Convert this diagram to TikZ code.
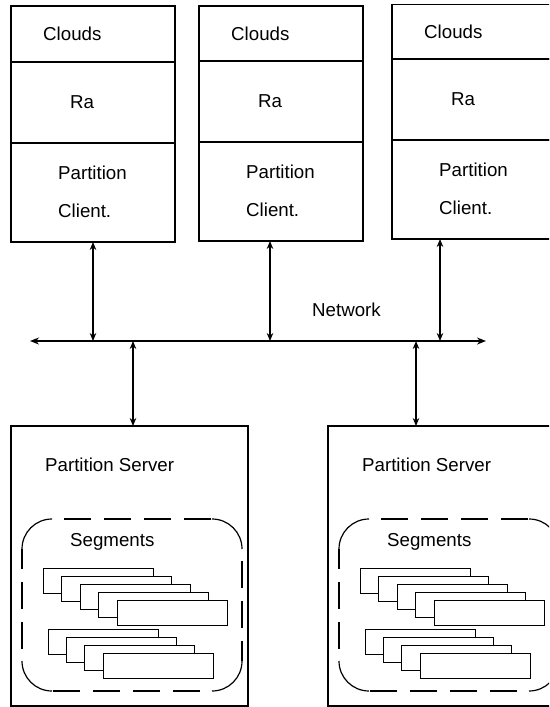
\documentclass[tikz,border=0pt]{standalone}
\usepackage{fontspec}
\setmainfont{Liberation Sans}
\usetikzlibrary{arrows.meta,calc}
\begin{document}
\begin{tikzpicture}[x=1pt,y=-1pt,
  box/.style={draw, line width=1.1pt, minimum width=164pt, inner sep=0pt, outer sep=0pt, fill=white},
  lbl/.style={inner sep=0pt, anchor=west, font=\fontsize{18.7}{22}\selectfont},
  link/.style={line width=1.6pt, {Stealth[length=8pt,width=6.5pt]}-{Stealth[length=8pt,width=6.5pt]}},
  bus/.style={line width=1.8pt, {Stealth[length=9pt,width=7pt]}-{Stealth[length=9pt,width=7pt]}},
  group/.style={minimum width=220pt, minimum height=172pt, inner sep=0pt, outer sep=0pt},
  grpcorner/.style={draw, line width=1.2pt},
  grpside/.style={draw, line width=1.2pt, dash pattern=on 27pt off 13pt},
  seg/.style={draw, fill=white, line width=1pt, minimum width=110pt, minimum height=25pt,
    inner sep=0pt, outer sep=0pt}]
\useasboundingbox (0,0) rectangle (549,707);
\clip (0,0) rectangle (549,707);

% network bus
\coordinate (bus-l) at (30,341);
\coordinate (bus-r) at (486,341);
\draw[bus] (bus-l) -- (bus-r);
\node[lbl] (net) at (312,310) {Network};

% client stacks: Clouds / Ra / Partition Client
\foreach \i/\L/\T/\ha/\ax in {1/11/6/56/82, 2/199/6/55/71, 3/392/4.5/54.5/48} {
  \node[box, minimum height=\ha, anchor=north west] (c\i-a) at (\L,\T) {};
  \node[box, minimum height=81, anchor=north] (c\i-b) at (c\i-a.south) {};
  \node[box, minimum height=99, anchor=north] (c\i-c) at (c\i-b.south) {};
  \node[lbl] (c\i-clouds) at ($(c\i-a.west)+(32,0)$) {Clouds};
  \node[lbl, anchor=center] (c\i-ra) at ($(c\i-b.center)+(-11,0)$) {Ra};
  \node[lbl] (c\i-part) at ($(c\i-c.west)+(47,-20)$) {Partition};
  \node[lbl] (c\i-client) at ($(c\i-c.west)+(47,18)$) {Client.};
  \coordinate (c\i-p) at ($(c\i-c.south west)+(\ax,0)$);
  \draw[link] (c\i-p) -- (c\i-p |- bus-l);
}

% partition servers with their segments
\foreach \j/\L/\ax in {1/11/122, 2/328/88} {
  \node[box, minimum width=237, minimum height=280, anchor=north west] (s\j) at (\L,426) {};
  \node[lbl] (s\j-title) at ($(s\j.north west)+(34,39)$) {Partition Server};
  \coordinate (s\j-p) at ($(s\j.north west)+(\ax,0)$);
  \draw[link] (s\j-p |- bus-l) -- (s\j-p);
  % dashed segment group: solid rounded corners, dashed sides
  \node[group, anchor=north west] (g\j) at ($(s\j.north west)+(11,93)$) {};
  \draw[grpcorner] ($(g\j.north west)+(0,30)$) .. controls ($(g\j.north west)+(0,13.4)$) and ($(g\j.north west)+(13.4,0)$) .. ($(g\j.north west)+(30,0)$);
  \draw[grpcorner] ($(g\j.north east)+(-30,0)$) .. controls ($(g\j.north east)+(-13.4,0)$) and ($(g\j.north east)+(0,13.4)$) .. ($(g\j.north east)+(0,30)$);
  \draw[grpcorner] ($(g\j.south east)+(0,-30)$) .. controls ($(g\j.south east)+(0,-13.4)$) and ($(g\j.south east)+(-13.4,0)$) .. ($(g\j.south east)+(-30,0)$);
  \draw[grpcorner] ($(g\j.south west)+(30,0)$) .. controls ($(g\j.south west)+(13.4,0)$) and ($(g\j.south west)+(0,-13.4)$) .. ($(g\j.south west)+(0,-30)$);
  \draw[grpside] ($(g\j.north west)+(42,0)$) -- ($(g\j.north east)+(-30,0)$);
  \draw[grpside] ($(g\j.north east)+(0,42)$) -- ($(g\j.south east)+(0,-30)$);
  \draw[grpside] ($(g\j.south east)+(-42,0)$) -- ($(g\j.south west)+(30,0)$);
  \draw[grpside] ($(g\j.south west)+(0,-42)$) -- ($(g\j.north west)+(0,30)$);
  \node[lbl] (g\j-label) at ($(g\j.north west)+(48,23)$) {Segments};
  \foreach \k in {0,...,4}
    \node[seg, anchor=north west] (g\j-t\k) at ($(s\j.north west)+({32+18.5*\k},{142+8*\k})$) {};
  \foreach \k in {0,...,3}
    \node[seg, anchor=north west] (g\j-b\k) at ($(s\j.north west)+({37+18.4*\k},{203+8.33*\k})$) {};
}
\end{tikzpicture}
\end{document}
